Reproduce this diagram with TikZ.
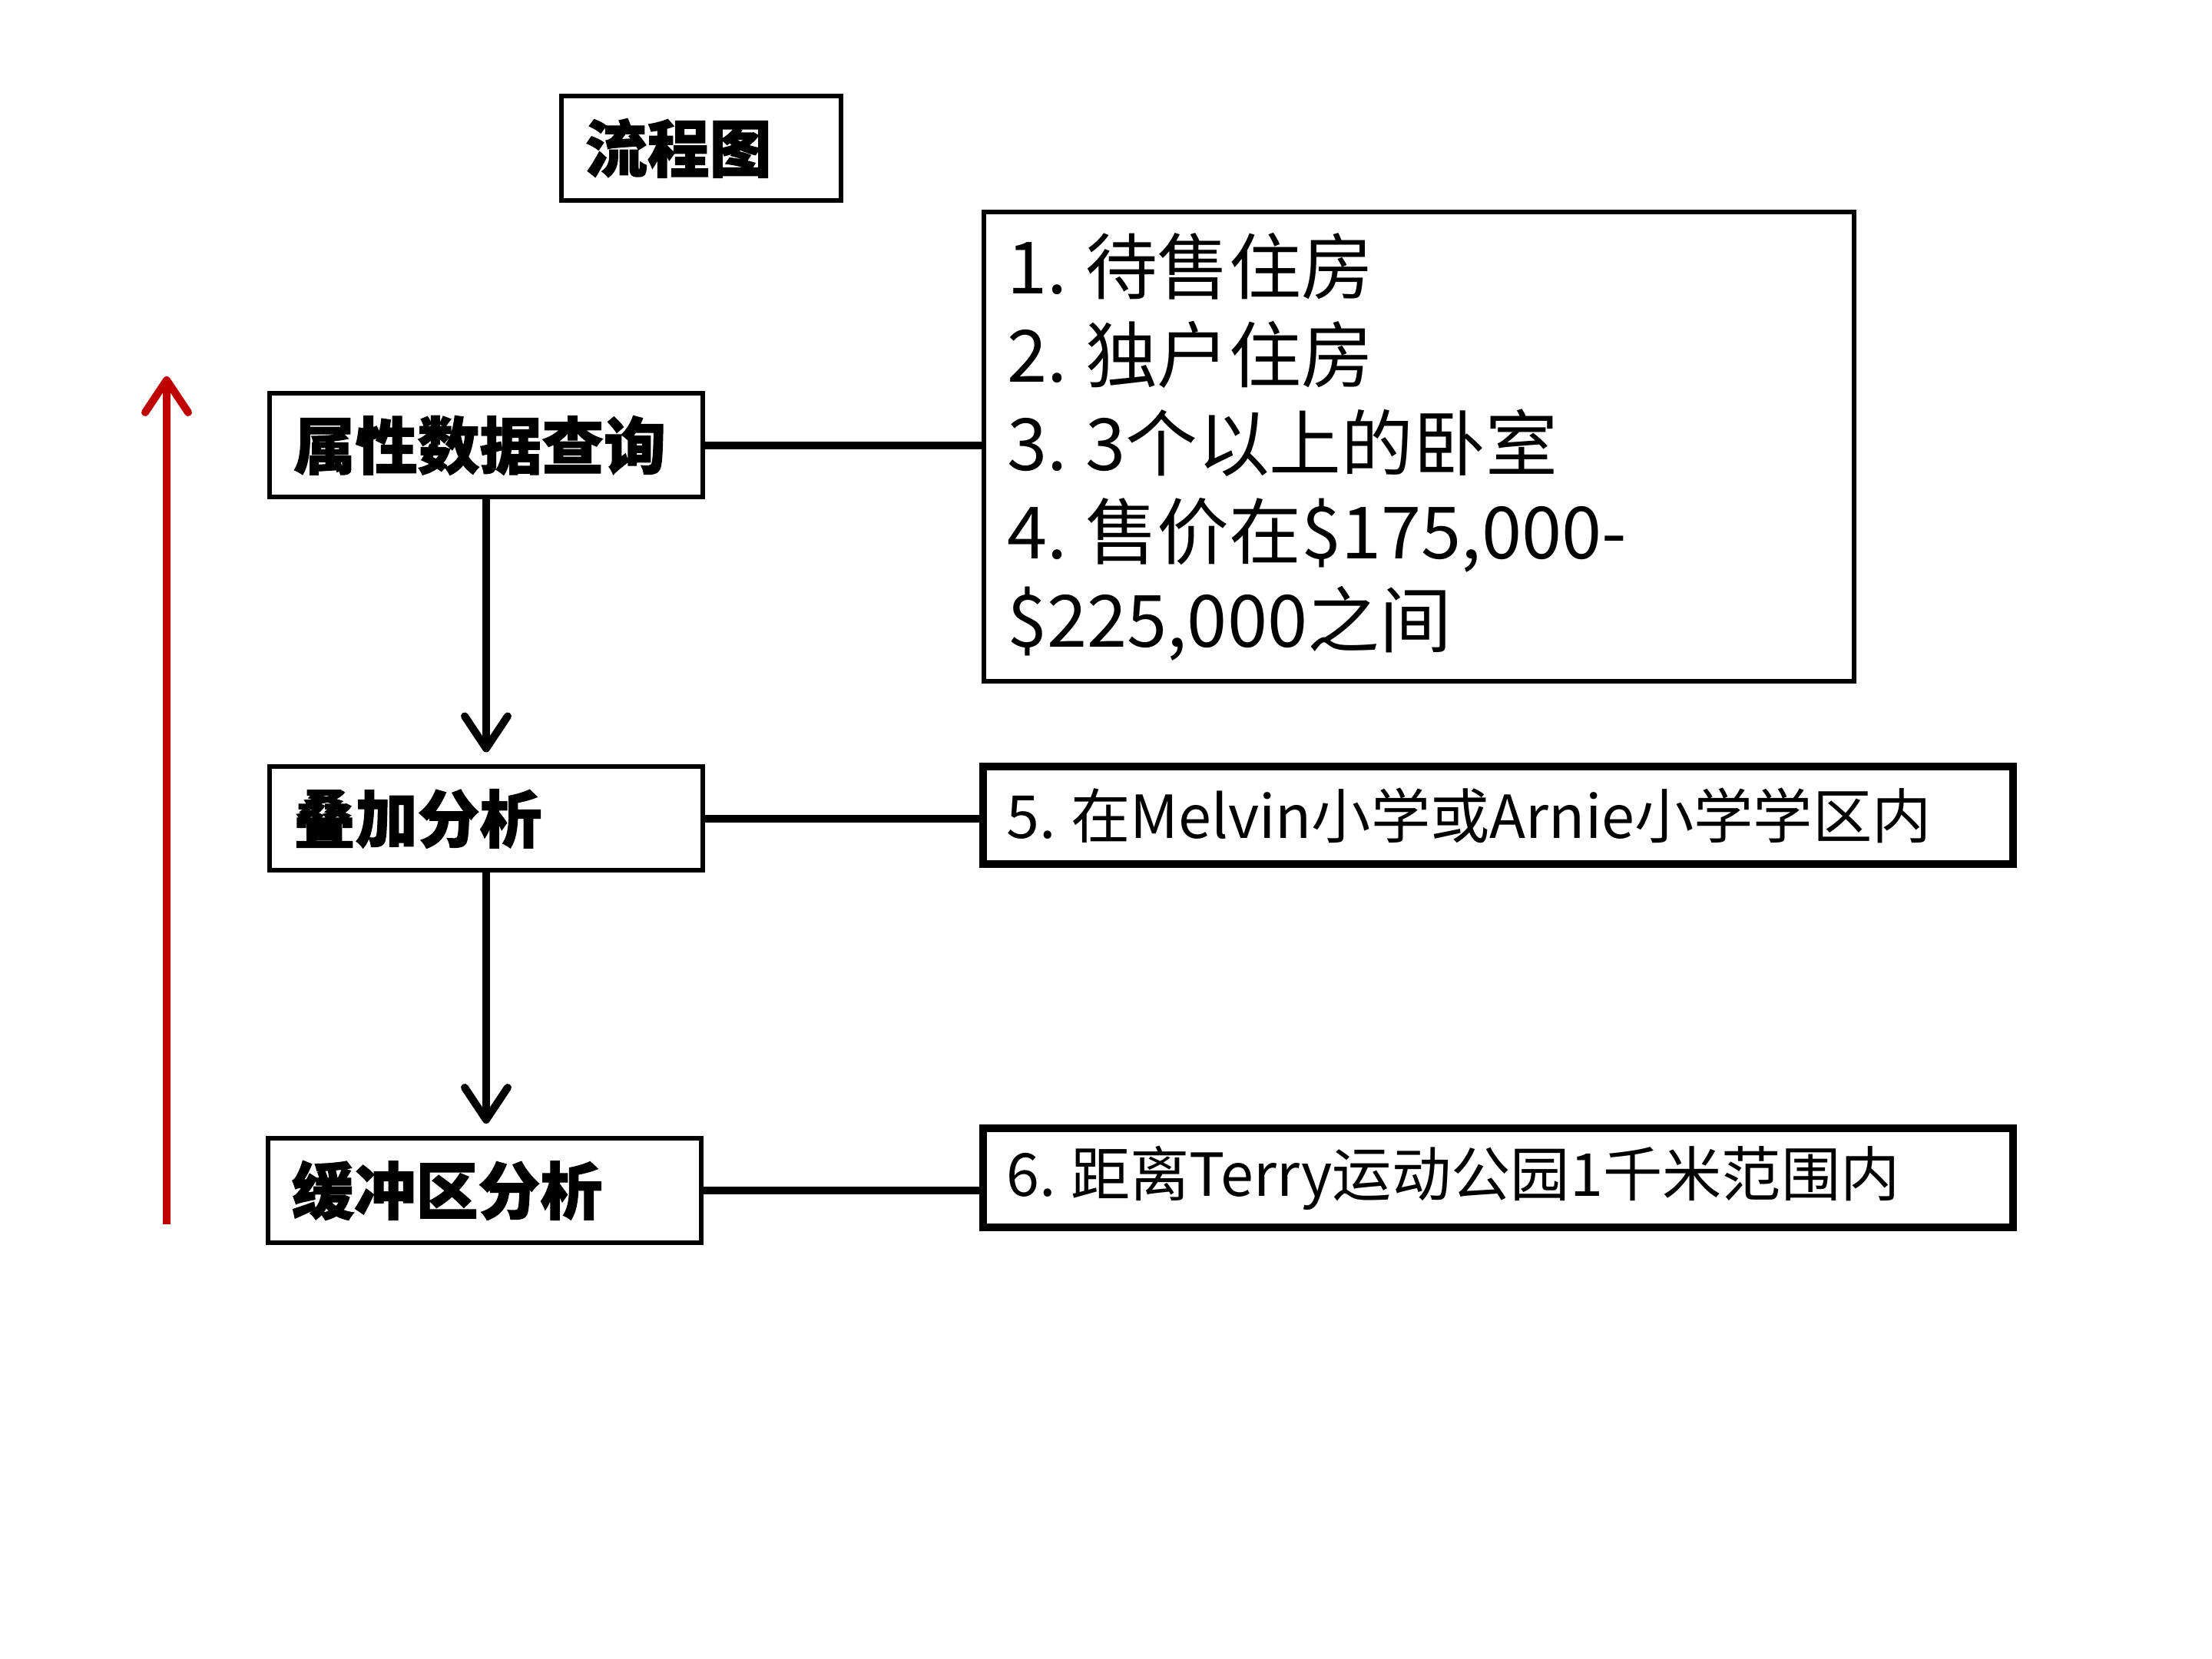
\documentclass[tikz,border=0pt]{standalone}
\usepackage{fontspec}
\setmainfont{Noto Sans CJK SC}[BoldFeatures={FakeBold=1.5}]
\usetikzlibrary{arrows.meta}
\definecolor{upred}{RGB}{192,0,0}
\newcommand{\numgap}{\hspace{0.25em}}
\begin{document}
\begin{tikzpicture}[
  >={Straight Barb[length=0.42cm,width=0.56cm,round]},
  stagebox/.style={draw, line width=0.06cm, minimum height=1.35cm, text width=#1,
    align=left, inner xsep=0.31cm, inner ysep=0pt,
    font=\fontsize{23}{28}\selectfont\bfseries},
  notebox/.style={draw, line width=#1, inner xsep=0.31cm, inner ysep=0pt, align=left},
  link/.style={line width=0.1cm},
  flow/.style={line width=0.1cm, ->, shorten >=0.16cm}
]
\useasboundingbox (0,0) rectangle (28.8,21.6);
% title
\node[stagebox=3.02cm, minimum height=1.36cm] (title) at (9.13,19.67) {流程图};
% steps on the left
\node[stagebox=5.02cm] (attr) at (6.33,15.80) {属性数据查询};
\node[stagebox=5.02cm] (over) at (6.33,10.94) {叠加分析};
\node[stagebox=5.02cm, minimum height=1.36cm] (buff) at (6.31,6.10) {缓冲区分析};
% conditions on the right
\node[notebox=0.06cm, text width=10.71cm, minimum height=6.11cm,
  font=\fontsize{26.7}{32.7}\selectfont] (cond) at (18.47,15.78)
  {1.\numgap 待售住房\\2.\numgap 独户住房\\3.\numgap 3个以上的卧室\\4.\numgap 售价在\$175,000-\\\$225,000之间};
\node[notebox=0.1cm, text width=12.79cm, minimum height=1.27cm,
  font=\fontsize{22}{26}\selectfont] (school) at (19.50,10.98)
  {5.\numgap 在Melvin小学或Arnie小学学区内};
\node[notebox=0.1cm, text width=12.79cm, minimum height=1.29cm,
  font=\fontsize{22}{26}\selectfont] (park) at (19.50,6.26)
  {6.\numgap 距离Terry运动公园1千米范围内};
% connectors
\draw[link] (attr.east) -- (attr.east -| cond.west);
\draw[link] (over.east) -- (over.east -| school.west);
\draw[link] (buff.east) -- (buff.east -| park.west);
\draw[flow] (attr.south) -- (over.north);
\draw[flow] (over.south) -- (over.south |- buff.north);
% red arrow
\coordinate (redbot) at (2.17,5.66);
\coordinate (redtop) at (2.17,16.70);
\draw[upred, line width=0.1cm, ->] (redbot) -- (redtop);
\end{tikzpicture}
\end{document}
